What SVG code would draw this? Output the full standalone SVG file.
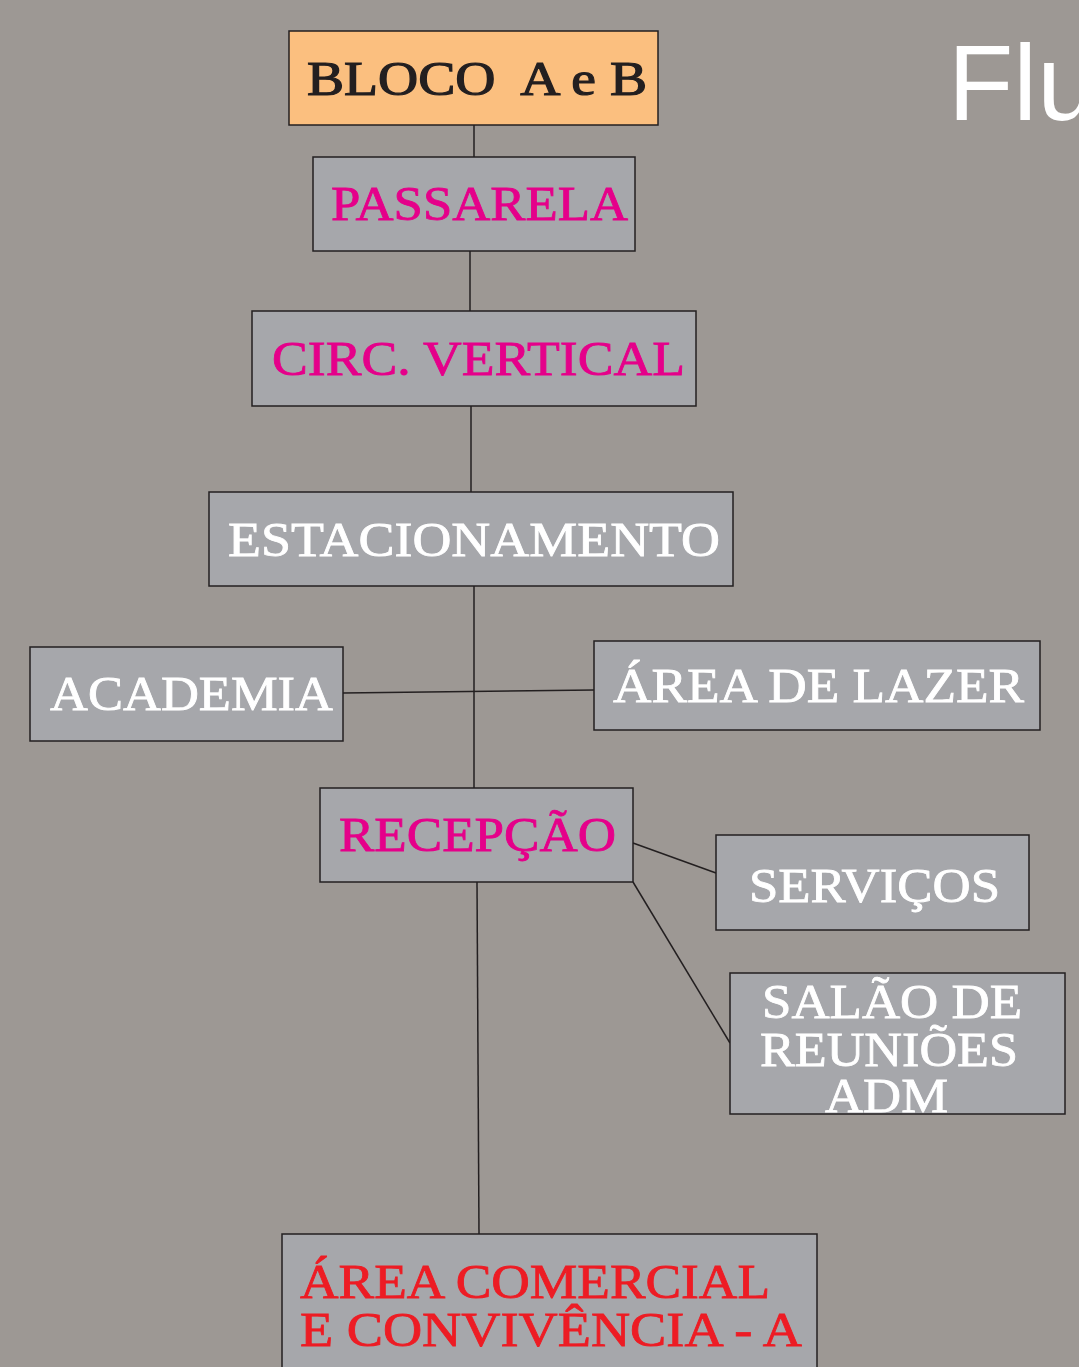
<svg xmlns="http://www.w3.org/2000/svg" width="1079" height="1367" viewBox="0 0 1079 1367">
<style>
.box{fill:#a6a7ab;stroke:#231f20;stroke-width:1.5}
.t{font-family:"Liberation Serif","DejaVu Serif",serif;font-size:48px;stroke-width:0.8}
.w{fill:#ffffff;stroke:#ffffff}
.m{fill:#e5008a;stroke:#e5008a}
.r{fill:#ed1c24;stroke:#ed1c24}
.k{fill:#231f20;stroke:#231f20;stroke-width:1.2}
.c{stroke:#231f20;stroke-width:1.5;fill:none}
</style>
<rect width="1079" height="1367" fill="#9d9894"/>
<text x="948" y="120" font-family="'Liberation Sans',Arial,sans-serif" font-size="107" fill="#ffffff">Flu</text>
<g id="connectors">
<line class="c" x1="474" y1="125" x2="474" y2="165"/>
<line class="c" x1="470" y1="251" x2="470" y2="311"/>
<line class="c" x1="471" y1="406" x2="471" y2="492"/>
<line class="c" x1="474" y1="586" x2="474" y2="788"/>
<line class="c" x1="343" y1="693" x2="594" y2="690"/>
<line class="c" x1="633" y1="843" x2="716" y2="873"/>
<line class="c" x1="633" y1="882" x2="730" y2="1043"/>
<line class="c" x1="477" y1="882" x2="479" y2="1234"/>
</g>
<g id="bloco">
<rect x="289" y="31" width="369" height="94" fill="#fbbf7f" stroke="#231f20" stroke-width="1.5"/>
<text class="t k" x="307" y="95" textLength="340" lengthAdjust="spacingAndGlyphs" xml:space="preserve">BLOCO  A e B</text>
</g>
<g id="passarela">
<rect class="box" x="313" y="157" width="322" height="94"/>
<text class="t m" x="331" y="220" textLength="297" lengthAdjust="spacingAndGlyphs">PASSARELA</text>
</g>
<g id="circ">
<rect class="box" x="252" y="311" width="444" height="95"/>
<text class="t m" x="272" y="375" textLength="413" lengthAdjust="spacingAndGlyphs">CIRC. VERTICAL</text>
</g>
<g id="estacionamento">
<rect class="box" x="209" y="492" width="524" height="94"/>
<text class="t w" x="228" y="556" textLength="492" lengthAdjust="spacingAndGlyphs">ESTACIONAMENTO</text>
</g>
<g id="academia">
<rect class="box" x="30" y="647" width="313" height="94"/>
<text class="t w" x="50" y="710" textLength="283" lengthAdjust="spacingAndGlyphs">ACADEMIA</text>
</g>
<g id="lazer">
<rect class="box" x="594" y="641" width="446" height="89"/>
<text class="t w" x="613" y="702" textLength="411" lengthAdjust="spacingAndGlyphs">ÁREA DE LAZER</text>
</g>
<g id="recepcao">
<rect class="box" x="320" y="788" width="313" height="94"/>
<text class="t m" x="339" y="851" textLength="277" lengthAdjust="spacingAndGlyphs">RECEPÇÃO</text>
</g>
<g id="servicos">
<rect class="box" x="716" y="835" width="313" height="95"/>
<text class="t w" x="749" y="902" textLength="251" lengthAdjust="spacingAndGlyphs">SERVIÇOS</text>
</g>
<g id="salao">
<rect class="box" x="730" y="973" width="335" height="141"/>
<text class="t w" x="762" y="1018" textLength="260" lengthAdjust="spacingAndGlyphs">SALÃO DE</text>
<text class="t w" x="760" y="1066" textLength="258" lengthAdjust="spacingAndGlyphs">REUNIÕES</text>
<text class="t w" x="825" y="1112" textLength="123" lengthAdjust="spacingAndGlyphs">ADM</text>
</g>
<g id="comercial">
<rect class="box" x="282" y="1234" width="535" height="140"/>
<text class="t r" x="300" y="1298" textLength="470" lengthAdjust="spacingAndGlyphs">ÁREA COMERCIAL</text>
<text class="t r" x="300" y="1346" textLength="502" lengthAdjust="spacingAndGlyphs">E CONVIVÊNCIA - A</text>
</g>
</svg>
